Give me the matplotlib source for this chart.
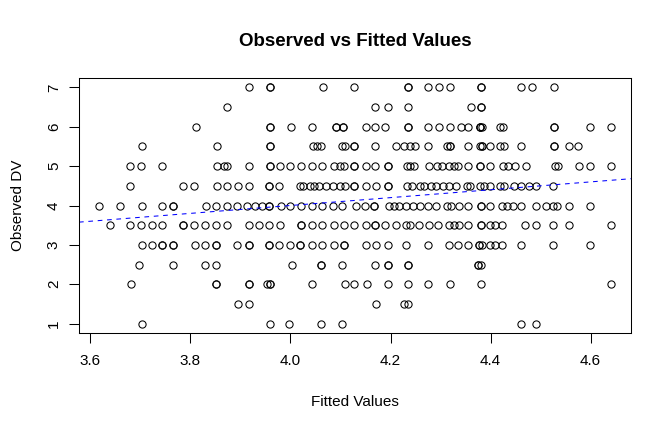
import numpy as np
import matplotlib
matplotlib.use("Agg")
import matplotlib.pyplot as plt

plt.rcParams['font.family'] = ['Liberation Sans', 'DejaVu Sans']

# fitted values for each observed DV level
obs_levels = [7.0, 6.5, 6.0, 5.5, 5.0, 4.5, 4.0, 3.5, 3.0, 2.5, 2.0, 1.5, 1.0]
fitted_by_level = {
    7.0: [3.917, 3.959, 3.959, 4.066, 4.127, 4.235, 4.235, 4.275, 4.297, 4.318,
          4.381, 4.381, 4.461, 4.483, 4.526],
    6.5: [3.874, 4.169, 4.194, 4.235, 4.361, 4.381, 4.381],
    6.0: [3.811, 3.959, 3.959, 4.001, 4.043, 4.091, 4.091, 4.106, 4.106, 4.151,
          4.169, 4.189, 4.235, 4.235, 4.275, 4.297, 4.318, 4.340, 4.355, 4.379,
          4.379, 4.379, 4.383, 4.419, 4.425, 4.526, 4.526, 4.598, 4.640],
    5.5: [3.704, 3.853, 3.959, 3.959, 4.045, 4.054, 4.062, 4.103, 4.110, 4.127,
          4.127, 4.169, 4.211, 4.227, 4.238, 4.249, 4.275, 4.313, 4.318, 4.318,
          4.355, 4.379, 4.383, 4.383, 4.398, 4.419, 4.426, 4.461, 4.526, 4.526,
          4.556, 4.575],
    5.0: [3.680, 3.701, 3.744, 3.853, 3.867, 3.873, 3.917, 3.959, 3.959, 3.980,
          3.999, 4.022, 4.043, 4.064, 4.087, 4.100, 4.107, 4.127, 4.127, 4.151,
          4.169, 4.194, 4.194, 4.233, 4.238, 4.247, 4.277, 4.293, 4.302, 4.316,
          4.327, 4.335, 4.355, 4.379, 4.379, 4.398, 4.425, 4.435, 4.449, 4.470,
          4.528, 4.535, 4.577, 4.598, 4.640],
    4.5: [3.680, 3.786, 3.808, 3.853, 3.874, 3.896, 3.917, 3.957, 3.957, 3.978,
          4.020, 4.025, 4.040, 4.047, 4.057, 4.071, 4.086, 4.100, 4.110, 4.127,
          4.127, 4.151, 4.171, 4.194, 4.194, 4.233, 4.242, 4.259, 4.266, 4.281,
          4.291, 4.305, 4.316, 4.330, 4.352, 4.359, 4.379, 4.387, 4.398, 4.419,
          4.426, 4.447, 4.461, 4.476, 4.490, 4.525],
    4.0: [3.618, 3.660, 3.703, 3.744, 3.765, 3.765, 3.832, 3.852, 3.873, 3.894,
          3.914, 3.930, 3.944, 3.958, 3.958, 3.981, 4.000, 4.022, 4.043, 4.064,
          4.086, 4.103, 4.130, 4.148, 4.167, 4.167, 4.196, 4.206, 4.217, 4.231,
          4.245, 4.259, 4.274, 4.291, 4.313, 4.320, 4.337, 4.355, 4.380, 4.380,
          4.398, 4.423, 4.433, 4.444, 4.461, 4.490, 4.511, 4.525, 4.532, 4.557,
          4.598],
    3.5: [3.639, 3.680, 3.701, 3.723, 3.744, 3.786, 3.786, 3.808, 3.829, 3.852,
          3.873, 3.917, 3.938, 3.958, 3.980, 4.022, 4.022, 4.043, 4.064, 4.087,
          4.107, 4.127, 4.151, 4.169, 4.169, 4.189, 4.211, 4.231, 4.238, 4.256,
          4.277, 4.295, 4.316, 4.327, 4.337, 4.355, 4.380, 4.380, 4.398, 4.408,
          4.423, 4.469, 4.490, 4.525, 4.556, 4.640],
    3.0: [3.703, 3.723, 3.744, 3.744, 3.765, 3.765, 3.809, 3.830, 3.852, 3.852,
          3.894, 3.917, 3.917, 3.958, 3.958, 3.978, 3.999, 4.020, 4.020, 4.043,
          4.064, 4.087, 4.107, 4.107, 4.151, 4.171, 4.194, 4.231, 4.274, 4.316,
          4.335, 4.354, 4.376, 4.376, 4.383, 4.398, 4.408, 4.423, 4.461, 4.525,
          4.598],
    2.5: [3.697, 3.765, 3.830, 3.852, 4.003, 4.062, 4.062, 4.104, 4.169, 4.194,
          4.194, 4.235, 4.235, 4.375, 4.375, 4.380],
    2.0: [3.681, 3.852, 3.852, 3.917, 3.917, 3.954, 3.959, 3.959, 4.043, 4.110,
          4.127, 4.153, 4.194, 4.235, 4.275, 4.318, 4.381, 4.640],
    1.5: [3.896, 3.917, 4.171, 4.226, 4.235],
    1.0: [3.704, 3.959, 3.998, 4.062, 4.104, 4.461, 4.491],
}

fitted = np.concatenate([fitted_by_level[lv] for lv in obs_levels])
observed = np.concatenate([[lv] * len(fitted_by_level[lv]) for lv in obs_levels])

x_ticks = [3.6, 3.8, 4.0, 4.2, 4.4, 4.6]
y_ticks = [1, 2, 3, 4, 5, 6, 7]

fig = plt.figure(figsize=(6.72, 4.32), dpi=100)
ax = fig.add_axes([79 / 672, 1 - 333 / 432, 552 / 672, 255 / 432])

ax.plot(fitted, observed, linestyle='none', marker='o', ms=5.2,
        mfc='none', mec='black', mew=0.75)

# R-style 4% padding around the data range
xr = fitted.max() - fitted.min()
ax.set_xlim(fitted.min() - 0.04 * xr, fitted.max() + 0.04 * xr)
ax.set_ylim(1 - 0.04 * 6, 7 + 0.04 * 6)

# reference line y = x
xs = np.array(ax.get_xlim())
ax.plot(xs, xs, color='blue', lw=0.75, linestyle=(0, (4.5, 4.5)))

ax.set_xticks(x_ticks)
ax.set_xticklabels([f'{t:.1f}' for t in x_ticks])
ax.set_yticks(y_ticks)
ax.set_yticklabels([str(t) for t in y_ticks], rotation=90, va='center')
ax.tick_params(direction='out', length=7, width=0.75, labelsize=11, pad=8)
ax.tick_params(axis='y', pad=6)
for s in ax.spines.values():
    s.set_linewidth(0.75)

fig.text(355 / 672, 1 - 41 / 432, 'Observed vs Fitted Values', ha='center',
         va='center', fontsize=13.5, fontweight='bold')
fig.text(355 / 672, 1 - 402 / 432, 'Fitted Values', ha='center', va='center',
         fontsize=11)
fig.text(18 / 672, 1 - 205 / 432, 'Observed DV', ha='center', va='center',
         rotation=90, fontsize=11)

fig.savefig('out.png', dpi=100)
